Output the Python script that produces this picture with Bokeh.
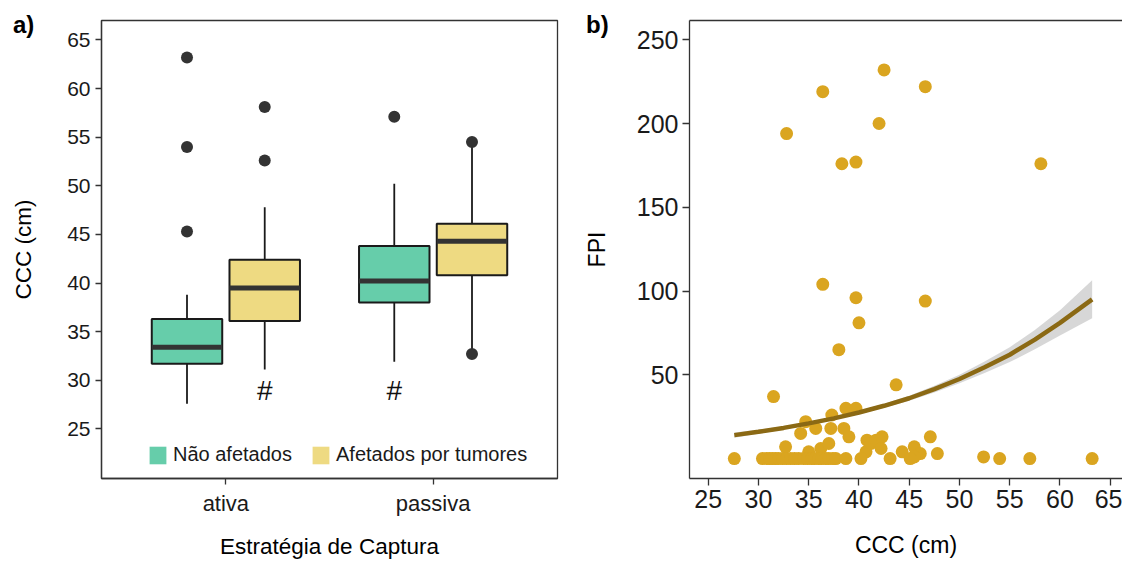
from bokeh.plotting import figure
from bokeh.layouts import row
from bokeh.models import Range1d, FixedTicker, Legend, LegendItem, LinearAxis, Div
from bokeh.embed import file_html
from bokeh.resources import INLINE
from bokeh.core.properties import value

# ---------------- data: panel a (boxplots) ----------------
strategies = ["ativa", "passiva"]
groups = ["Não afetados", "Afetados por tumores"]
box_strategy = [0, 0, 1, 1]          # index into strategies
box_group = [0, 1, 0, 1]             # index into groups
whisker_low = [27.6, 31.1, 31.9, 33.2]
q1 = [31.7, 36.1, 38.0, 40.8]
median = [33.4, 39.5, 40.2, 44.3]
q3 = [36.3, 42.4, 43.8, 46.1]
whisker_high = [38.8, 47.8, 50.2, 54.0]
outlier_box = [0, 0, 0, 1, 1, 2, 3, 3]
outlier_value = [45.3, 54.0, 63.2, 52.6, 58.1, 57.1, 54.5, 32.7]
sig_box = [1, 2]
sig_text = ["#", "#"]
y_ticks_a = [25, 30, 35, 40, 45, 50, 55, 60, 65]

# ---------------- data: panel b (scatter + fit) ----------------
ccc = [32.8, 36.4, 42.5, 46.6, 42.0, 38.3, 39.7, 58.1,
       36.4, 39.7, 46.6, 40.0, 38.0, 43.7, 31.5,
       34.2, 34.7, 35.7, 37.3, 37.2, 38.5, 39.0, 38.7, 39.7,
       32.7, 35.0, 36.2, 37.0, 40.8, 40.7, 41.2, 41.7, 42.3, 42.2,
       44.3, 45.5, 46.1, 45.5, 47.1, 47.8, 52.4,
       27.6, 30.4, 30.8, 31.1, 31.4, 31.7, 32.0, 32.4, 32.8, 33.2,
       33.6, 34.0, 34.5, 34.9, 35.3, 35.6, 36.0, 36.3, 36.7, 37.0,
       37.4, 37.7, 38.7, 40.2, 43.1, 45.1, 54.0, 57.0, 63.2]
fpi = [194, 219, 232, 222, 200, 176, 177, 176,
       104, 96, 94, 81, 65, 44, 37,
       15, 22, 18, 26, 18, 18, 13, 30, 30,
       7, 4, 6, 9, 11, 4, 9, 11, 13, 6,
       4, 7, 3, 1, 13, 3, 1,
       0, 0, 0, 0, 0, 0, 0, 0, 0, 0,
       0, 0, 0, 0, 0, 0, 0, 0, 0, 0,
       0, 0, 0, 0, 0, 0, 0, 0, 0]
fit_x = [27.6, 30.0, 32.5, 35.0, 37.5, 40.0, 42.5, 45.0, 47.5, 50.0, 52.5, 55.0, 57.5, 60.0, 63.2]
fit_y = [14.0, 16.0, 18.3, 21.0, 24.0, 27.5, 31.5, 36.0, 41.5, 47.5, 54.5, 62.0, 71.0, 81.0, 95.0]
fit_lo = [12.5, 14.8, 17.3, 20.1, 23.1, 26.5, 30.3, 34.5, 39.5, 44.9, 51.1, 57.6, 65.2, 73.4, 83.8]
fit_hi = [15.5, 17.2, 19.3, 21.9, 24.9, 28.5, 32.7, 37.5, 43.5, 50.1, 57.9, 66.4, 76.8, 88.6, 106.5]
x_ticks_b = [25, 30, 35, 40, 45, 50, 55, 60, 65]
y_ticks_b = [50, 100, 150, 200, 250]
panel_tags = ["a)", "b)"]

FONT = "Liberation Sans"
GROUP_COLORS = ["#66CDAA", "#EEDA82"]
DODGE = 0.1875
BOX_W = 0.34


def style_axis(ax, tick_size, title_size, tick_out=6):
    ax.axis_line_color = "#333333"
    ax.axis_line_width = 1.3
    ax.major_tick_line_color = "#333333"
    ax.major_tick_line_width = 1.3
    ax.major_tick_out = tick_out
    ax.major_tick_in = 0
    ax.minor_tick_line_color = None
    ax.major_label_text_font = FONT
    ax.major_label_text_font_size = tick_size
    ax.major_label_text_color = "#1a1a1a"
    ax.axis_label_text_font = FONT
    ax.axis_label_text_font_size = title_size
    ax.axis_label_text_font_style = "normal"
    ax.axis_label_text_color = "#000000"


def tag(text, left_px, top_px):
    return Div(text=text, width=34, height=28,
               styles={"position": "absolute", "left": f"{left_px}px", "top": f"{top_px}px",
                       "font-family": FONT, "font-size": "24px", "font-weight": "bold",
                       "line-height": "24px", "color": "#000000", "margin": "0",
                       "padding": "0", "z-index": "10"})


# ---------------- panel a ----------------
pa = figure(width=580, height=561, output_backend="svg", toolbar_location=None,
            x_range=Range1d(0.4, 2.6), y_range=Range1d(19.9, 67.0),
            min_border_left=101, min_border_right=23, min_border_top=20,
            min_border_bottom=79)
pa.xgrid.grid_line_color = None
pa.ygrid.grid_line_color = None
pa.outline_line_color = "#333333"
pa.outline_line_width = 1.3
pa.background_fill_color = "white"

centers = [box_strategy[i] + 1 + (2 * box_group[i] - 1) * DODGE for i in range(4)]
lefts = [c - BOX_W / 2 for c in centers]
rights = [c + BOX_W / 2 for c in centers]
fills = [GROUP_COLORS[g] for g in box_group]

pa.segment(x0=centers, x1=centers, y0=q3, y1=whisker_high, line_color="#1a1a1a", line_width=1.8)
pa.segment(x0=centers, x1=centers, y0=whisker_low, y1=q1, line_color="#1a1a1a", line_width=1.8)
fill_r = pa.quad(left=lefts, right=rights, bottom=q1, top=q3, fill_color=fills, line_color=None)
pa.quad(left=lefts, right=rights, bottom=q1, top=q3, fill_color=None,
        line_color="#1a1a1a", line_width=2)
pa.segment(x0=lefts, x1=rights, y0=median, y1=median, line_color="#333333", line_width=5)
pa.scatter(x=[centers[b] for b in outlier_box], y=outlier_value, size=12,
           fill_color="#333333", line_color=None)
pa.text(x=[centers[b] for b in sig_box], y=[29.0] * len(sig_box), text=sig_text,
        text_font=value(FONT), text_font_size="28px", text_align="center",
        text_baseline="middle", text_color="#111111")

legend = Legend(items=[LegendItem(label=groups[g], renderers=[fill_r], index=box_group.index(g))
                       for g in range(len(groups))],
                orientation="horizontal", location=(46, 12), glyph_width=21,
                glyph_height=22, label_standoff=5, spacing=18, padding=0, margin=0,
                border_line_color=None, background_fill_alpha=0,
                label_text_font=FONT, label_text_font_size="20px",
                label_text_color="#1a1a1a")
pa.add_layout(legend)

pa.xaxis.ticker = FixedTicker(ticks=[i + 1 for i in range(len(strategies))])
pa.xaxis.major_label_overrides = {i + 1: s for i, s in enumerate(strategies)}
pa.yaxis.ticker = FixedTicker(ticks=y_ticks_a)
pa.xaxis.axis_label = "Estratégia de Captura"
pa.yaxis.axis_label = "CCC (cm)"
style_axis(pa.xaxis[0], "22px", "22.5px")
style_axis(pa.yaxis[0], "21px", "22.5px")
pa.xaxis.major_label_standoff = 6
pa.xaxis.axis_label_standoff = 15
pa.yaxis.major_label_standoff = 5
pa.yaxis.axis_label_standoff = 28

# ---------------- panel b ----------------
pb = figure(width=542, height=561, output_backend="svg", toolbar_location=None,
            x_range=Range1d(23.14, 66.22), y_range=Range1d(-11.9, 261.5),
            min_border_left=109, min_border_right=0, min_border_top=20,
            min_border_bottom=82)
pb.xgrid.grid_line_color = None
pb.ygrid.grid_line_color = None
pb.outline_line_color = None

pb.scatter(x=ccc, y=fpi, size=13, fill_color="#DAA520", line_color=None)
pb.varea(x=fit_x, y1=fit_lo, y2=fit_hi, fill_color="#BDBDBD", fill_alpha=0.6)
pb.line(x=fit_x, y=fit_y, line_color="#8B6914", line_width=4.5)

pb.xaxis.ticker = FixedTicker(ticks=x_ticks_b)
pb.yaxis.ticker = FixedTicker(ticks=y_ticks_b)
pb.xaxis.axis_label = "CCC (cm)"
pb.yaxis.axis_label = "FPI"
style_axis(pb.xaxis[0], "25px", "23px", tick_out=7)
style_axis(pb.yaxis[0], "25px", "23px", tick_out=7)
pb.xaxis.major_label_standoff = 4
pb.xaxis.axis_label_standoff = 21
pb.yaxis.major_label_standoff = 4
pb.yaxis.axis_label_standoff = 24

top_axis = LinearAxis(ticker=FixedTicker(ticks=[]), major_tick_line_color=None,
                      minor_tick_line_color=None, major_label_standoff=0,
                      axis_line_color="#333333", axis_line_width=1.3)
pb.add_layout(top_axis, "above")

layout = row(pa, pb, tag(panel_tags[0], 13, 13), tag(panel_tags[1], 586, 13))
open("out.html", "w").write(file_html(layout, INLINE))
